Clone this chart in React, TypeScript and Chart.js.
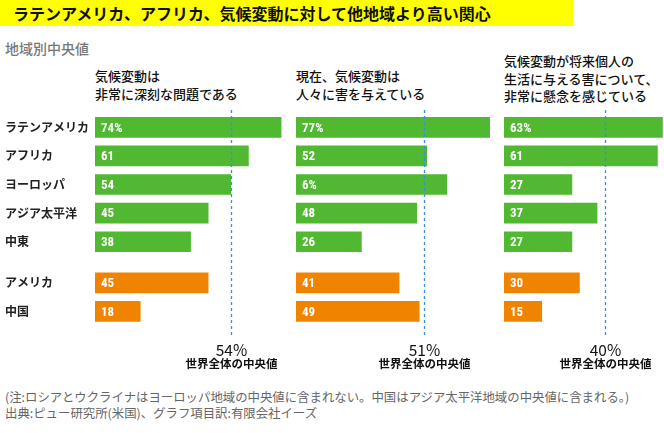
import React, { useEffect, useRef } from "react";
import { Chart, registerables } from "chart.js";

Chart.register(...registerables);

// ---------- data ----------
const TITLE = "ラテンアメリカ、アフリカ、気候変動に対して他地域より高い関心";
const SUBTITLE = "地域別中央値";

const categories = ["ラテンアメリカ", "アフリカ", "ヨーロッパ", "アジア太平洋", "中東", "アメリカ", "中国"];
const groups = ["region", "region", "region", "region", "region", "country", "country"];

const seriousTitle = ["気候変動は", "非常に深刻な問題である"];
const seriousValues = [74, 61, 54, 45, 38, 45, 18];
const seriousLabels = ["74%", "61", "54", "45", "38", "45", "18"];

const harmTitle = ["現在、気候変動は", "人々に害を与えている"];
const harmValues = [77, 52, 60, 48, 26, 41, 49];
const harmLabels = ["77%", "52", "6%", "48", "26", "41", "49"];

const concernTitle = ["気候変動が将来個人の", "生活に与える害について、", "非常に懸念を感じている"];
const concernValues = [63, 61, 27, 37, 27, 30, 15];
const concernLabels = ["63%", "61", "27", "37", "27", "30", "15"];

const medians = [54, 51, 40];
const medianLabels = ["54%", "51%", "40%"];
const medianCaption = "世界全体の中央値";

const notes = [
  "(注:ロシアとウクライナはヨーロッパ地域の中央値に含まれない。中国はアジア太平洋地域の中央値に含まれる。)",
  "出典:ピュー研究所(米国)、グラフ項目訳:有限会社イーズ",
];

// ---------- styles ----------
const GREEN = "#50b831";
const ORANGE = "#f08300";
const BLUE = "#3a8fd1";
const YELLOW = "#ffff00";
const JP = "'Noto Sans CJK JP', 'Noto Sans', sans-serif";
const NUM = "'Roboto Condensed', 'Liberation Sans Narrow', 'DejaVu Sans Condensed', Roboto, sans-serif";

const PX_PER_UNIT = 2.515;
const ROW_PX = 28.6;
const GROUP_GAP = 0.437;
const CHART_TOP = 108;
const AREA_H = 228;
const BOTTOM_PAD = 40;
const Y_MIN = -0.675;
const Y_MAX = Y_MIN + AREA_H / ROW_PX;

let shift = 0;
const yPositions = groups.map((g, i) => {
  if (i > 0 && g !== groups[i - 1]) shift += GROUP_GAP;
  return i + shift;
});
const barColors = groups.map((g) => (g === "region" ? GREEN : ORANGE));

type PanelDef = {
  title: string[];
  values: number[];
  labels: string[];
  median: number;
  medianLabel: string;
  left: number;
  width: number;
  padLeft: number;
  showCategories: boolean;
  headerTop: number;
};

const panels: PanelDef[] = [
  { title: seriousTitle, values: seriousValues, labels: seriousLabels, median: medians[0], medianLabel: medianLabels[0], left: 0, width: 296, padLeft: 95, showCategories: true, headerTop: 67 },
  { title: harmTitle, values: harmValues, labels: harmLabels, median: medians[1], medianLabel: medianLabels[1], left: 296, width: 202, padLeft: 0, showCategories: false, headerTop: 67 },
  { title: concernTitle, values: concernValues, labels: concernLabels, median: medians[2], medianLabel: medianLabels[2], left: 504, width: 160, padLeft: 0, showCategories: false, headerTop: 52 },
];

function Panel({ p }: { p: PanelDef }) {
  const ref = useRef<HTMLCanvasElement | null>(null);
  useEffect(() => {
    if (!ref.current) return;
    const xMax = (p.width - p.padLeft) / PX_PER_UNIT;
    const overlay = {
      id: "overlay",
      afterDatasetsDraw(chart: any) {
        const ctx = chart.ctx as CanvasRenderingContext2D;
        const area = chart.chartArea;
        const meta = chart.getDatasetMeta(0);
        ctx.save();
        // value labels inside bars
        ctx.fillStyle = "#ffffff";
        ctx.font = `bold 13px ${NUM}`;
        ctx.textAlign = "left";
        ctx.textBaseline = "middle";
        meta.data.forEach((el: any, i: number) => {
          ctx.fillText(p.labels[i], area.left + 6, el.y + 1);
        });
        // category labels
        if (p.showCategories) {
          ctx.fillStyle = "#222222";
          ctx.font = `bold 12px ${JP}`;
          meta.data.forEach((el: any, i: number) => {
            ctx.fillText(categories[i], 5, el.y);
          });
        }
        // median dashed line
        const x = Math.round(chart.scales.x.getPixelForValue(p.median)) + 0.5;
        ctx.strokeStyle = BLUE;
        ctx.lineWidth = 1.3;
        ctx.setLineDash([3, 3]);
        ctx.beginPath();
        ctx.moveTo(x, area.top + 2);
        ctx.lineTo(x, area.bottom - 1);
        ctx.stroke();
        ctx.setLineDash([]);
        // median labels
        ctx.fillStyle = "#111111";
        ctx.textAlign = "center";
        ctx.font = `15.5px ${JP}`;
        ctx.fillText(p.medianLabel, x, area.bottom + 14);
        ctx.font = `bold 11.5px ${JP}`;
        ctx.fillText(medianCaption, x, area.bottom + 28);
        ctx.restore();
      },
    };
    const chart = new Chart(ref.current, {
      type: "bar",
      data: {
        datasets: [
          {
            data: p.values.map((v, i) => ({ x: v, y: yPositions[i] })),
            backgroundColor: barColors,
            borderWidth: 0,
            barThickness: 20,
          } as any,
        ],
      },
      options: {
        indexAxis: "y",
        responsive: false,
        animation: false,
        layout: { padding: { left: p.padLeft, right: 0, top: 0, bottom: BOTTOM_PAD } },
        plugins: { legend: { display: false }, tooltip: { enabled: false }, title: { display: false } },
        scales: {
          x: { type: "linear", min: 0, max: xMax, display: false, offset: false },
          y: { type: "linear", min: Y_MIN, max: Y_MAX, reverse: true, display: false, offset: false },
        },
      } as any,
      plugins: [overlay],
    });
    return () => chart.destroy();
  }, [p]);
  return (
    <canvas
      ref={ref}
      width={p.width}
      height={AREA_H + BOTTOM_PAD}
      style={{ position: "absolute", left: p.left, top: CHART_TOP, width: p.width, height: AREA_H + BOTTOM_PAD }}
    />
  );
}

export default function App() {
  return (
    <div
      style={{
        position: "absolute",
        left: 0,
        top: 0,
        width: 664,
        height: 433,
        overflow: "hidden",
        background: "#ffffff",
        fontFamily: JP,
      }}
    >
      <div
        style={{
          position: "absolute",
          left: 0,
          top: 0,
          width: 573,
          height: 26,
          background: YELLOW,
        }}
      />
      <div
        style={{
          position: "absolute",
          left: 13,
          top: 0,
          height: 26,
          lineHeight: "26px",
          fontSize: 16,
          fontWeight: 700,
          color: "#111",
          whiteSpace: "nowrap",
        }}
      >
        {TITLE}
      </div>
      <div
        style={{
          position: "absolute",
          left: 5,
          top: 38,
          lineHeight: "20px",
          fontSize: 14,
          fontWeight: 500,
          color: "#777",
          whiteSpace: "nowrap",
        }}
      >
        {SUBTITLE}
      </div>
      {panels.map((p, i) => (
        <div
          key={"h" + i}
          style={{
            position: "absolute",
            left: p.padLeft > 0 ? p.left + p.padLeft : p.left,
            top: p.headerTop,
            fontSize: 13,
            lineHeight: "17.5px",
            fontWeight: 500,
            color: "#111",
            whiteSpace: "nowrap",
          }}
        >
          {p.title.map((t, j) => (
            <div key={j}>{t}</div>
          ))}
        </div>
      ))}
      {panels.map((p, i) => (
        <Panel key={"p" + i} p={p} />
      ))}
      <div
        style={{
          position: "absolute",
          left: 5,
          top: 389,
          fontSize: 12.4,
          lineHeight: "16px",
          color: "#666",
          whiteSpace: "nowrap",
        }}
      >
        {notes.map((n, j) => (
          <div key={j}>{n}</div>
        ))}
      </div>
    </div>
  );
}
